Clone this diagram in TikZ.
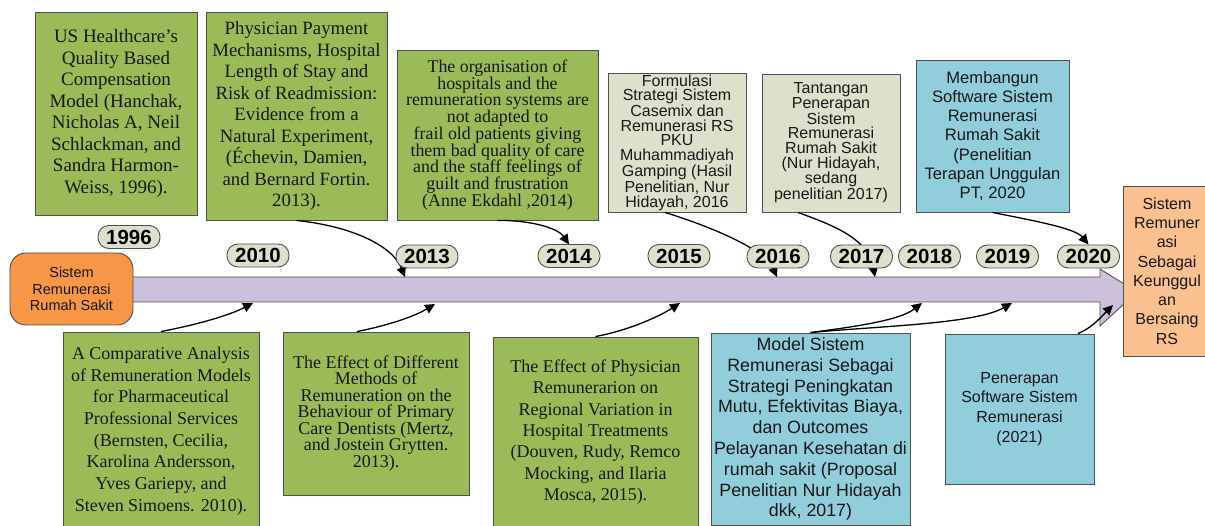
\documentclass[tikz,border=0pt]{standalone}
\usepackage{fontspec}
\setmainfont{Liberation Serif}
\setsansfont{Liberation Sans}
\usetikzlibrary{arrows.meta}
\definecolor{boxgreen}{HTML}{9BBB59}
\definecolor{boxgray}{HTML}{DDE1CB}
\definecolor{pillgray}{HTML}{DDE1CB}
\definecolor{boxblue}{HTML}{92CDDC}
\definecolor{boxorange}{HTML}{FAC090}
\definecolor{leftorange}{HTML}{F79646}
\definecolor{bandpurple}{HTML}{CCC0DA}
\definecolor{edge}{HTML}{505050}
\tikzset{
  basebox/.style={draw=edge, line width=0.9pt, align=center, inner sep=0pt, text=black!90},
  greenbox/.style={basebox, fill=boxgreen},
  graybox/.style={basebox, fill=boxgray, font=\sffamily\fontsize{16}{14.6}\selectfont},
  bluebox/.style={basebox, fill=boxblue},
  pill/.style={draw=edge, line width=0.9pt, fill=pillgray, rounded corners=11pt, minimum width=62pt, minimum height=23pt, inner sep=0pt, font=\sffamily\bfseries\fontsize{20.5}{21}\selectfont},
  link/.style={line width=1.3pt, black, -{Triangle[length=10pt,width=9.5pt]}}
}
\begin{document}
\begin{tikzpicture}[x=1pt,y=-1pt]
\useasboundingbox (0,0) rectangle (1205,526);
\clip (0,0) rectangle (1205,526);
\fill[white] (0,0) rectangle (1205,526);

% timeline band
\draw[draw=edge, line width=0.9pt, fill=bandpurple]
  (120,277) -- (1100,277) -- (1100,269) -- (1137,292) -- (1100,326) -- (1100,302) -- (120,302) -- cycle;

% target points on the band
\coordinate (t2010) at (253,303);
\coordinate (t2013a) at (405,277);
\coordinate (t2013b) at (435,304);
\coordinate (t2015) at (680,303);
\coordinate (t2016) at (777,277);
\coordinate (t2017) at (875,277);
\coordinate (t2018) at (922,303);
\coordinate (t2019) at (1012,303);
\coordinate (t2020b) at (1113,305);

% top boxes
\node[greenbox, minimum width=162pt, minimum height=203pt, font=\fontsize{19}{21.5}\selectfont] (us) at (116,113.5)
 {US Healthcare's\\Quality Based\\Compensation\\Model (Hanchak,\\Nicholas A, Neil\\Schlackman, and\\Sandra Harmon-\\Weiss, 1996).};
\node[greenbox, minimum width=181pt, minimum height=208pt, font=\fontsize{18.8}{21.5}\selectfont] (phys) at (296.5,116)
 {Physician Payment\\Mechanisms, Hospital\\Length of Stay and\\Risk of Readmission:\\Evidence from a\\Natural Experiment,\\(Échevin, Damien,\\and Bernard Fortin.\\2013).};
\node[greenbox, minimum width=201pt, minimum height=170pt, font=\fontsize{17.9}{16.75}\selectfont] (org) at (497.5,135)
 {The organisation of\\hospitals and the\\remuneration systems are\\not adapted to\\frail old patients giving\\them bad quality of care\\and the staff feelings of\\guilt and frustration\\(Anne Ekdahl ,2014)};
\node[graybox, minimum width=138pt, minimum height=139pt] (form) at (677,142.5)
 {Formulasi\\Strategi Sistem\\Casemix dan\\Remunerasi RS\\PKU\\Muhammadiyah\\Gamping (Hasil\\Penelitian, Nur\\Hidayah, 2016};
\node[graybox, minimum width=138pt, minimum height=138pt] (tant) at (831,143)
 {Tantangan\\Penerapan\\Sistem\\Remunerasi\\Rumah Sakit\\(Nur Hidayah,\\sedang\\penelitian 2017)};
\node[bluebox, minimum width=153pt, minimum height=152pt, font=\sffamily\fontsize{16.6}{19.3}\selectfont] (memb) at (992.5,136)
 {Membangun\\Software Sistem\\Remunerasi\\Rumah Sakit\\(Penelitian\\Terapan Unggulan\\PT, 2020};

% bottom boxes
\node[greenbox, minimum width=196pt, minimum height=198pt, font=\fontsize{18}{21.7}\selectfont] (comp) at (161,431)
 {A Comparative Analysis\\of Remuneration Models\\for Pharmaceutical\\Professional Services\\(Bernsten, Cecilia,\\Karolina Andersson,\\Yves Gariepy, and\\Steven Simoens. 2010).};
\node[greenbox, minimum width=186pt, minimum height=163pt, font=\fontsize{18}{16.5}\selectfont] (diff) at (376,413.5)
 {The Effect of Different\\Methods of\\Remuneration on the\\Behaviour of Primary\\Care Dentists (Mertz,\\and Jostein Grytten.\\2013).};
\node[greenbox, minimum width=205pt, minimum height=190pt, font=\fontsize{18}{21.3}\selectfont] (phys2) at (595.5,432)
 {The Effect of Physician\\Remunerarion on\\Regional Variation in\\Hospital Treatments\\(Douven, Rudy, Remco\\Mocking, and Ilaria\\Mosca, 2015).};
\node[bluebox, minimum width=199pt, minimum height=192pt, font=\sffamily\fontsize{17.8}{20.8}\selectfont] (model) at (810.5,429)
 {Model Sistem\\Remunerasi Sebagai\\Strategi Peningkatan\\Mutu, Efektivitas Biaya,\\dan Outcomes\\Pelayanan Kesehatan di\\rumah sakit (Proposal\\Penelitian Nur Hidayah\\dkk, 2017)};
\node[bluebox, minimum width=149pt, minimum height=150pt, font=\sffamily\fontsize{16}{19.7}\selectfont] (pen) at (1019.5,409)
 {Penerapan\\Software Sistem\\Remunerasi\\(2021)};

% end boxes
\node[basebox, fill=leftorange, rounded corners=16pt, minimum width=123pt, minimum height=72pt, font=\sffamily\fontsize{14.5}{16.7}\selectfont] (start) at (71.5,289)
 {Sistem\\Remunerasi\\Rumah Sakit};
\node[basebox, fill=boxorange, minimum width=88pt, minimum height=170pt, font=\sffamily\fontsize{16}{19.3}\selectfont] (goal) at (1167,271)
 {Sistem\\Remuner\\asi\\Sebagai\\Keunggul\\an\\Bersaing\\RS};

% connectors
\draw[link] (phys.south) .. controls (350,226) and (392,245) .. (t2013a);
\draw[link] (org.south) .. controls (530,220) and (558,228) .. (569,244.5);
\draw[link] ([xshift=-12pt]form.south) .. controls (715,228) and (765,250) .. (t2016);
\draw[link] ([xshift=-33pt]tant.south) .. controls (832,225) and (868,238) .. (t2017);
\draw[link] (memb.south) .. controls (1030,220) and (1075,228) .. (1088.5,244.5);
\draw[link] (comp.north) .. controls (195,325) and (228,316) .. (t2010);
\draw[link] ([xshift=-19pt]diff.north) .. controls (390,325) and (415,316) .. (t2013b);
\draw[link] (phys2.north) .. controls (630,330) and (660,316) .. (t2015);
\draw[link] (model.north) .. controls (860,326) and (900,320) .. (t2018);
\draw[link] (model.north) .. controls (880,326) and (975,324) .. (t2019);
\draw[link] ([xshift=58.5pt]pen.north) .. controls (1092,328) and (1102,316) .. (t2020b);

% year pills
\node[pill] (y1996) at (129,237) {1996};
\node[pill] (y2010) at (258,255.5) {2010};
\node[pill] (y2013) at (427,256.5) {2013};
\node[pill] (y2014) at (569,256) {2014};
\node[pill] (y2015) at (679,256) {2015};
\node[pill] (y2016) at (778,256.5) {2016};
\node[pill] (y2017) at (861.5,256.5) {2017};
\node[pill] (y2018) at (929.5,256.5) {2018};
\node[pill] (y2019) at (1007.5,256.5) {2019};
\node[pill] (y2020) at (1088.5,256.5) {2020};
\end{tikzpicture}
\end{document}
